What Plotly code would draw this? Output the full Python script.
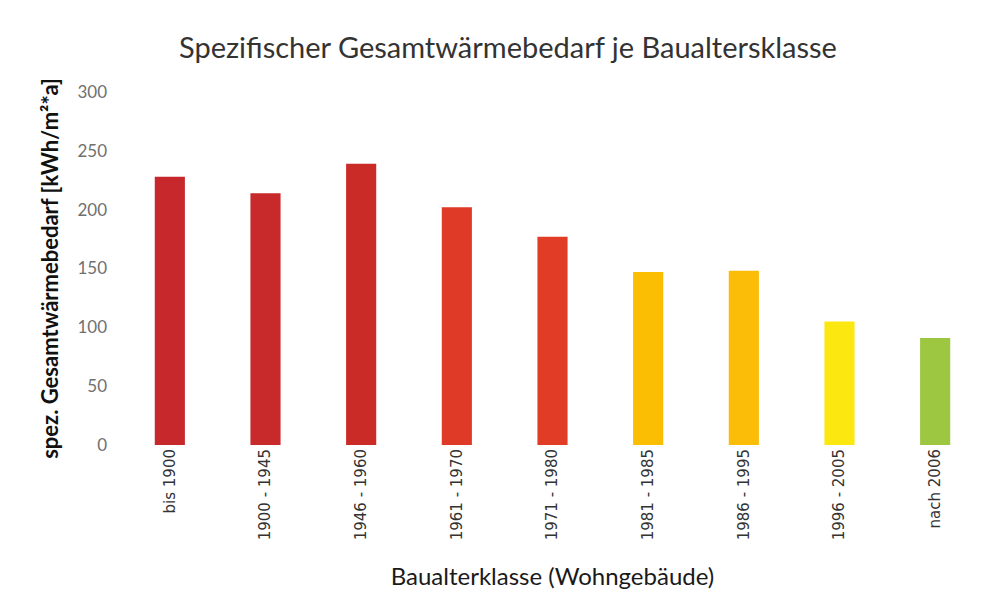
import plotly.graph_objects as go

categories = ["bis 1900", "1900 - 1945", "1946 - 1960", "1961 - 1970", "1971 - 1980",
              "1981 - 1985", "1986 - 1995", "1996 - 2005", "nach 2006"]
values = [228, 214, 239, 202, 177, 147, 148, 105, 91]
colors = ["#c6282c", "#c8292b", "#cb2b27", "#df3a27", "#e03c26",
          "#fbbe02", "#fbbd08", "#fde710", "#9dc641"]
y_ticks = [0, 50, 100, 150, 200, 250, 300]

fig = go.Figure(go.Bar(x=categories, y=values, marker=dict(color=colors, line=dict(width=0))))

fig.update_layout(
    width=994, height=612,
    paper_bgcolor="white", plot_bgcolor="white",
    margin=dict(l=114, r=19, t=84, b=175),
    bargap=0.685,
    showlegend=False,
    font=dict(family="Lato, Open Sans, sans-serif"),
    title=dict(text="Spezifischer Gesamtwärmebedarf je Baualtersklasse",
               x=0.503, xref="container", xanchor="center",
               y=0.935, yref="container", yanchor="middle",
               font=dict(size=29, color="#333333")),
)
fig.update_xaxes(
    tickangle=-90, tickfont=dict(family="DejaVu Sans", size=15, color="#333333"),
    showline=False, showgrid=False, ticks="",
    title=dict(text="Baualterklasse (Wohngebäude)", font=dict(size=24, color="#1a1a1a"), standoff=28),
)
fig.update_yaxes(
    range=[0, 300], tickvals=y_ticks, showgrid=False, zeroline=False, showline=False,
    tickfont=dict(size=17, color="#707070"), ticks="", ticklabelstandoff=14,
    title=dict(text="<b>spez. Gesamtwärmebedarf [kWh/m²*a]</b>", font=dict(size=22, color="#111111"), standoff=12),
)
fig.write_html("out.html")
